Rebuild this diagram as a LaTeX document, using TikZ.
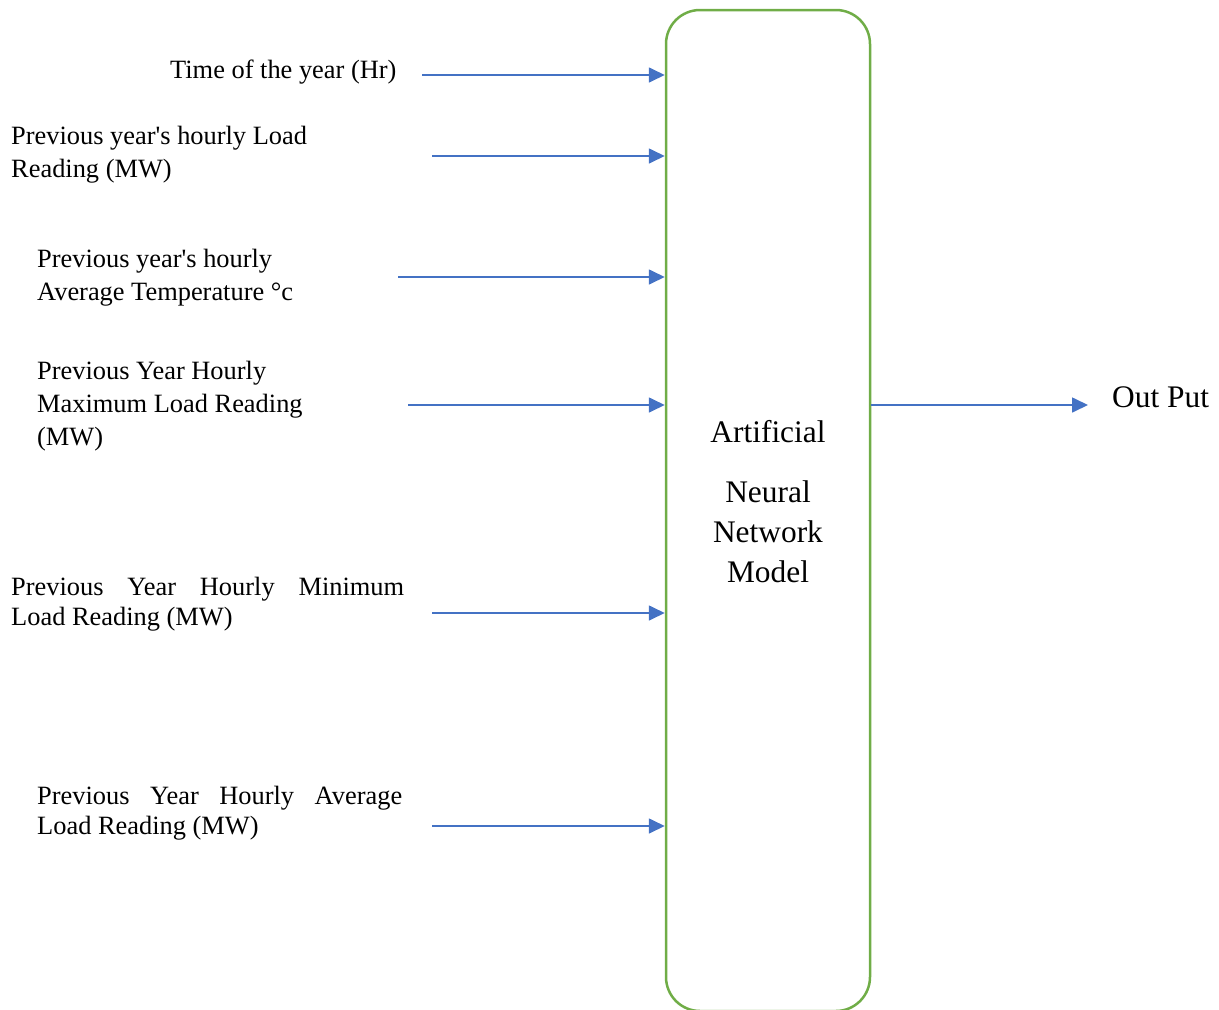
\documentclass[tikz,border=0pt]{standalone}
\usepackage{fontspec}
\setmainfont{Liberation Serif}[Ligatures=TeXOff]
\usetikzlibrary{arrows.meta}
\definecolor{boxgreen}{HTML}{70AD47}
\definecolor{arrowblue}{HTML}{4472C4}
\begin{document}
\begin{tikzpicture}[x=1pt,y=-1pt,
  lbl/.style={anchor=north west, inner sep=0pt, align=left, font=\fontsize{26.4}{33}\selectfont},
  jlbl/.style={anchor=north west, inner sep=0pt, align=justify, font=\fontsize{26.4}{30.5}\selectfont},
  inarrow/.style={draw=arrowblue, line width=1.7pt, -{Triangle[length=16pt,width=15pt]}},
  annbox/.style={draw=boxgreen, line width=2.5pt, rounded corners=34pt, minimum width=204pt, minimum height=1001pt, inner sep=0pt},
  anntext/.style={anchor=north, inner sep=0pt, align=center, font=\fontsize{31.4}{40}\selectfont}]
\useasboundingbox (0,0) rectangle (1219,1010);
\clip (0,0) rectangle (1219,1010);
\node[annbox] (ann) at (768,510.5) {};
\node[anntext] (anntxt) at (768,420) {Artificial\\[20pt]Neural\\Network\\Model};

\node[lbl] (l1) at (170,59.5) {Time of the year (Hr)};
\node[lbl] (l2) at (11,125.5) {Previous year's hourly Load\\Reading (MW)};
\node[lbl] (l3) at (37,248.5) {Previous year's hourly\\Average Temperature °c};
\node[lbl] (l4) at (37,360.5) {Previous Year Hourly\\Maximum Load Reading\\(MW)};
\node[jlbl, text width=393pt] (l5) at (11,576.5) {Previous Year Hourly Minimum\linebreak Load Reading (MW)};
\node[jlbl, text width=365pt] (l6) at (37,785.5) {Previous Year Hourly Average\linebreak Load Reading (MW)};

\coordinate (s1) at (422,75);
\coordinate (s2) at (432,156);
\coordinate (s3) at (398,277);
\coordinate (s4) at (408,405);
\coordinate (s5) at (432,613);
\coordinate (s6) at (432,826);
\foreach \s in {s1,s2,s3,s4,s5,s6}{
  \draw[inarrow] (\s) -- (\s -| ann.west);
}
\coordinate (o) at (1088,405);
\draw[inarrow] (ann.east |- o) -- (o);
\node[anchor=base west, inner sep=0pt, font=\fontsize{31.4}{40}\selectfont] (out) at (1112,407.4) {Out Put};
\end{tikzpicture}
\end{document}
